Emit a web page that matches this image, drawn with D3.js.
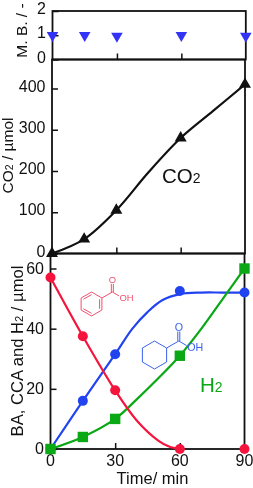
<!DOCTYPE html>
<html><head><meta charset="utf-8">
<script src="https://cdn.jsdelivr.net/npm/d3@7"></script>
<style>html,body{margin:0;padding:0;background:#fff}svg{display:block;filter:blur(0.35px)}text{font-family:"Liberation Sans",Arial,sans-serif;fill:#111}</style>
</head><body><div id="c"></div>
<script>
const times=[0,15,30,60,90];
const massBalance=[1,1,0.97,1,0.97];
const co2=[0,35,105,280,410];
const ba=[57,37.5,19.5,0,0];
const cca=[0,16,31.5,52.5,52];
const h2=[0,4,10,31,60];
// fitted lines
const co2LineT=[0,15,30,45,60,75,90];
const co2LineV=[0,35,105,197,280,345,410];
const baLineT=[0,15,30,40,50,55,60];
const baLineV=[57,37.5,19.5,9.5,2.8,0.8,0];
const ccaLineT=[0,15,30,38,45,52,60,70,80,90];
const ccaLineV=[0,16,31.5,40,45.5,49.5,51.5,52,52,52];
const h2LineT=[0,15,30,40,50,60,70,80,90];
const h2LineV=[0,4,10,16.5,23.5,31,40,50,60];
const topTicks=[0,1,2], midTicks=[0,100,200,300,400], botTicks=[0,20,40,60], xTicks=[0,30,60,90];

const svg=d3.select('#c').append('svg').attr('width',253).attr('height',488);
const xTop=d3.scaleLinear([0,90],[52.5,245.8]);
const xMid=d3.scaleLinear([0,90],[52,245]);
const xBot=d3.scaleLinear([0,90],[50.5,244.5]);
const yTop=d3.scaleLinear([0,2],[59.5,11]);
const yMid=d3.scaleLinear([0,400],[253.5,88.5]);
const yBot=d3.scaleLinear([0,60],[449,268.5]);

function frame(x,y,top,bottom,yt,xt,dy){
  const g=svg.append('g');
  g.append('rect').attr('x',x.range()[0]).attr('y',top).attr('width',x.range()[1]-x.range()[0]).attr('height',bottom-top)
   .attr('fill','none').attr('stroke','#111').attr('stroke-width',1.8);
  const ax=d3.axisLeft(y).tickValues(yt).tickSize(-6).tickPadding(6.5).tickFormat(d3.format('d'));
  const ya=g.append('g').attr('transform',`translate(${x.range()[0]},0)`).call(ax);
  ya.select('.domain').remove();
  ya.selectAll('line').attr('stroke','#111').attr('stroke-width',1.5);
  ya.selectAll('text').attr('font-size',16).attr('fill','#111').attr('y',dy);
  const xa=d3.axisBottom(x).tickValues(xt).tickSize(-6).tickFormat('');
  const xg=g.append('g').attr('transform',`translate(0,${bottom})`).call(xa);
  xg.select('.domain').remove();
  xg.selectAll('line').attr('stroke','#111').attr('stroke-width',1.5);
  return g;
}
frame(xTop,yTop,11,59.5,topTicks,[30,60],-2.5);
frame(xMid,yMid,59.5,253.5,midTicks,[30,60],-2.5);
frame(xBot,yBot,253.5,449,botTicks,[30,60],-0.5);

// bottom tick labels
svg.append('g').selectAll('text').data(xTicks).join('text')
 .attr('x',d=>xBot(d)).attr('y',466).attr('text-anchor','middle').attr('font-size',16).text(d=>d);
svg.append('text').attr('x',152.5).attr('y',484.2).attr('text-anchor','middle').attr('font-size',16.5).text('Time/ min');

// lines
function curve(x,y,ts,vs,c,w){
  const l=d3.line().x(d=>x(d[0])).y(d=>y(d[1])).curve(d3.curveCatmullRom.alpha(0.5));
  svg.append('path').attr('d',l(d3.zip(ts,vs))).attr('fill','none').attr('stroke',c).attr('stroke-width',w);
}
const BLUE='#2244f0',RED='#f5143c',GREEN='#0aa814';
curve(xMid,yMid,co2LineT,co2LineV,'#111',2.2);
curve(xBot,yBot,ccaLineT,ccaLineV,BLUE,2.2);
curve(xBot,yBot,h2LineT,h2LineV,GREEN,2.2);
curve(xBot,yBot,baLineT,baLineV,RED,2.2);

// markers
const sym=(t,s)=>d3.symbol().type(t).size(s)();
svg.append('g').selectAll('path').data(d3.zip(times,massBalance)).join('path')
 .attr('d',sym(d3.symbolTriangle,58))
 .attr('transform',d=>`translate(${xTop(d[0])},${yTop(d[1])}) rotate(180)`).attr('fill','#3333f5');
svg.append('g').selectAll('path').data(d3.zip(times,co2)).join('path')
 .attr('d',sym(d3.symbolTriangle,62))
 .attr('transform',d=>`translate(${xMid(d[0])},${yMid(d[1])})`).attr('fill','#111');
svg.append('g').selectAll('circle').data(d3.zip(times,cca)).join('circle')
 .attr('cx',d=>xBot(d[0])).attr('cy',d=>yBot(d[1])).attr('r',5).attr('fill',BLUE);
svg.append('g').selectAll('circle').data(d3.zip(times,ba)).join('circle')
 .attr('cx',d=>xBot(d[0])).attr('cy',d=>yBot(d[1])).attr('r',5).attr('fill',RED);
svg.append('g').selectAll('rect').data(d3.zip(times,h2)).join('rect')
 .attr('x',d=>xBot(d[0])-5.2).attr('y',d=>yBot(d[1])-5.2).attr('width',10.4).attr('height',10.4).attr('fill',GREEN);

// axis titles
function vtext(x,y,parts,size){
  const t=svg.append('text').attr('transform',`translate(${x},${y}) rotate(-90)`).attr('text-anchor','middle').attr('font-size',size);
  parts.forEach(p=>{const s=t.append('tspan').text(p[0]); if(p[1]) s.attr('font-size',size*0.68);});
}
vtext(27,30.5,[['M. B. / -']],15.5);
vtext(13,155.5,[['CO'],['2',1],[' / µmol']],15.5);
vtext(22.5,351,[['BA, CCA and H'],['2',1],[' / µmol']],16.6);

// annotations
function lab(x,y,parts,size,c){
  const t=svg.append('text').attr('x',x).attr('y',y).attr('font-size',size).style('fill',c);
  parts.forEach(p=>{const s=t.append('tspan').text(p[0]); if(p[1]) s.attr('font-size',size*0.68);});
}
lab(162,183,[['CO'],['2',1]],20.5,'#111');
lab(200,392,[['H'],['2',1]],20.5,GREEN);

// molecule sketches
function mol(cx,cy,r,c,dbl){
  const g=svg.append('g').attr('fill','none').attr('stroke',c).attr('stroke-width',1);
  const v=d3.range(6).map(i=>[cx+r*Math.sin(i*Math.PI/3),cy-r*Math.cos(i*Math.PI/3)]);
  g.append('path').attr('d',d3.line()(v)+'Z');
  if(dbl) [[1,2],[3,4],[5,0]].forEach(([a,b])=>{
    const k=0.78;
    const p=q=>[cx+(q[0]-cx)*k,cy+(q[1]-cy)*k];
    g.append('path').attr('d',d3.line()([p(v[a]),p(v[b])]));
  });
  const a=v[1], C=[a[0]+r*0.87,a[1]-r*0.5];
  g.append('path').attr('d',d3.line()([a,C]));
  g.append('path').attr('d',d3.line()([[C[0]-1,C[1]],[C[0]-1,C[1]-r*0.68]]));
  g.append('path').attr('d',d3.line()([[C[0]+1,C[1]],[C[0]+1,C[1]-r*0.68]]));
  g.append('path').attr('d',d3.line()([C,[C[0]+r*0.55,C[1]+r*0.32]]));
  const f=r*0.62;
  svg.append('text').attr('x',C[0]).attr('y',C[1]-r*0.75).attr('text-anchor','middle').attr('font-size',f+2).style('fill',c).text('O');
  svg.append('text').attr('x',C[0]+r*0.6).attr('y',C[1]+r*0.72).attr('font-size',f+2).style('fill',c).text('OH');
}
mol(91.5,304,12,'#f0506e',true);
mol(154.5,355,14,'#3a62ee',false);
</script></body></html>
